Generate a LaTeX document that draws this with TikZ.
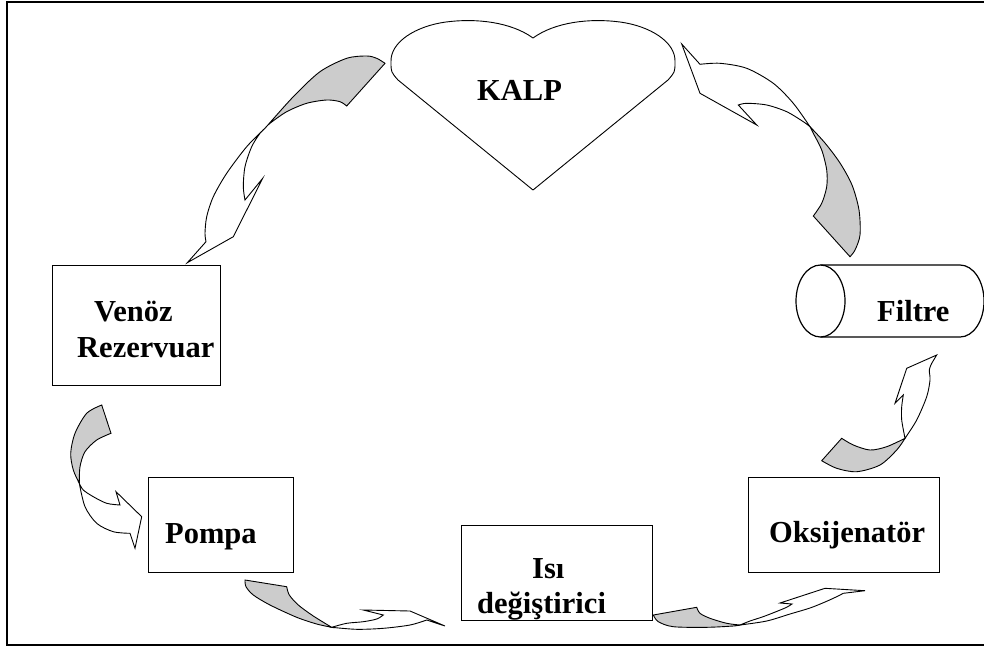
\documentclass[tikz,border=0pt]{standalone}
\usepackage{fontspec}
\setmainfont{Liberation Serif}
\begin{document}
\begin{tikzpicture}[x=1pt,y=-1pt,
  box/.style={draw, line width=1.2pt, inner sep=0pt, anchor=north west},
  lbl/.style={anchor=base west, inner sep=0pt, font=\fontsize{30.5}{36}\selectfont\bfseries},
  outline/.style={draw, line width=0.9pt, line join=miter},
  ribbonback/.style={outline, fill=black!20},
  ribbonfront/.style={outline, fill=white}]
\useasboundingbox (0,0) rectangle (984,651);
\clip (0,0) rectangle (984,651);
\fill[white] (0,0) rectangle (984,651);

% outer frame (right side runs off the page)
\draw[line width=1.6pt] (7,2) rectangle (995,645);

% heart
\draw[outline, line join=round] (533,38)
  .. controls (555,22) and (590,18) .. (620,22)
  .. controls (650,26) and (676,42) .. (675,62)
  .. controls (675,72) .. (668,80) -- (533,190) -- (398,80)
  .. controls (391,72) .. (391,62)
  .. controls (390,42) and (416,26) .. (446,22)
  .. controls (476,18) and (511,22) .. (533,38) -- cycle;
\node[lbl] (kalp) at (477,100) {KALP};

% component boxes
\node[box, minimum width=168pt, minimum height=120pt] (venoz) at (52,265) {};
\node[lbl] (venozA) at (94,321) {Venöz};
\node[lbl] (venozB) at (77,357) {Rezervuar};

\node[box, minimum width=145pt, minimum height=95pt] (pompa) at (148,477) {};
\node[lbl] (pompaT) at (165,543) {Pompa};

\node[box, minimum width=191pt, minimum height=95pt] (isi) at (461,525) {};
\node[lbl] (isiA) at (532,578) {Isı};
\node[lbl] (isiB) at (477,613) {değiştirici};

\node[box, minimum width=191pt, minimum height=95pt] (oksi) at (748,477) {};
\node[lbl] (oksiT) at (769,542) {Oksijenatör};

% filter cylinder
\draw[line width=1.2pt] (820.5,265) -- (960,265)
  arc[start angle=90, end angle=-90, x radius=24pt, y radius=36pt] -- (820.5,337);
\draw[line width=1.2pt] (820.5,301) ellipse [x radius=24.5pt, y radius=36pt];
\node[lbl] (filtre) at (877,321) {Filtre};

% curved block arrow: heart -> venous reservoir
\path[ribbonback] plot[smooth] coordinates {(385,63.3) (376.7,58.3) (366.7,56) (346.7,58.3) (320,71.7) (293.3,96.7) (265,128.3)}
  -- plot[smooth] coordinates {(265,128.3) (270,123.3) (286.7,111.7) (306.7,103.3) (326.7,100) (340,101.7) (346.7,106)} -- cycle;
\path[ribbonfront] plot[smooth] coordinates {(265,128.3) (246.7,146.7) (226.7,173.3) (213.3,196.7) (206.7,216.7) (205,233.3) (206,241.7)}
  -- (187.3,262.7) -- (233.3,236.7) -- (262.7,178.3) -- (245,200)
  -- plot[smooth] coordinates {(245,200) (243.3,186.7) (245,166.7) (251.7,146.7) (260,133.3) (265,128.3)} -- cycle;

% curved block arrow: filter -> heart
\path[ribbonback] plot[smooth] coordinates {(813.3,216) (821.7,203.3) (826.7,186.7) (826.7,170) (821.7,150) (813.3,133.3) (810,126.7)}
  -- plot[smooth] coordinates {(810,126.7) (825,143) (840,163) (852,185) (859,210) (860,235) (855,250) (850,256.7)} -- cycle;
\path[ribbonfront] plot[smooth] coordinates {(810,126.7) (793.3,103.3) (773.3,83.3) (746.7,68.3) (720,63.3) (700,64.3)}
  -- (681.7,44) -- (700,93.3) -- (756.7,125) -- (738.3,105)
  -- plot[smooth] coordinates {(738.3,105) (746.7,103.3) (766.7,105) (786.7,111.7) (803.3,121.7) (810,126.7)} -- cycle;

% curved block arrow: venous reservoir -> pump
\path[ribbonback] plot[smooth] coordinates {(101.7,405) (86.7,413.3) (75,433.3) (70.7,453.3) (73.3,470) (79.3,483.3)}
  -- plot[smooth] coordinates {(79.3,483.3) (80,466.7) (85,451.7) (96.7,440) (111,433.3)} -- cycle;
\path[ribbonfront] plot[smooth] coordinates {(79.3,483.3) (85,506.7) (96.7,523.3) (113.3,531.7) (130,533.3)}
  -- (135,548.3) -- (141.7,516.7) -- (116,491.7) -- (120,505)
  -- plot[smooth] coordinates {(120,505) (106.7,503.3) (93.3,496.7) (83.3,490) (79.3,483.3)} -- cycle;

% curved block arrow: pump -> heat exchanger
\path[ribbonback] (245,580) -- plot[smooth] coordinates {(286.7,586.7) (289.3,595) (298.3,605) (313.3,616) (331.7,627.3)}
  -- plot[smooth] coordinates {(331.7,627.3) (316.7,624) (296.7,617.3) (270,605) (253.3,595) (246,586.7) (245,580)} -- cycle;
\path[ribbonfront] plot[smooth] coordinates {(331.7,627.3) (356.7,629.3) (383.3,628.3) (410,625) (426.7,620)}
  -- (445,626) -- (410,611) -- (363.3,610) -- (383.3,615)
  -- plot[smooth] coordinates {(383.3,615) (376.7,619) (363.3,621.7) (346.7,623.3) (331.7,627.3)} -- cycle;

% curved block arrow: heat exchanger -> oxygenator
\path[ribbonback] (653.3,615) -- plot[smooth] coordinates {(696.7,607.3) (700,613.3) (710,618.3) (726.7,623.3) (740,625)}
  -- plot[smooth] coordinates {(740,625) (733.3,626) (706.7,627.3) (673.3,626.7) (658.3,621.7) (653.3,615)} -- cycle;
\path[ribbonfront] plot[smooth] coordinates {(740,625) (766.7,621) (790,614) (810,608) (825,602) (836,597) (843.3,593.3)}
  -- (865,590.7) -- (825,588.3) -- (780,603) -- (792,604)
  -- plot[smooth] coordinates {(792,604) (785,608) (765,616) (750,621) (740,625)} -- cycle;

% curved block arrow: oxygenator -> filter
\path[ribbonback] (821.7,460.7) -- plot[smooth] coordinates {(841.7,438.3) (853.3,445) (870,450) (886.7,446.7) (905,438.3)}
  -- plot[smooth] coordinates {(905,438.3) (896.7,450) (880,465) (856.7,471.7) (836.7,468.3) (821.7,460.7)} -- cycle;
\path[ribbonfront] plot[smooth] coordinates {(905,438.3) (916.7,420) (926.7,396.7) (930,380) (929.3,370) (931.7,363.3)}
  -- (936.7,355) -- (906.7,368.3) -- (895,403.3) -- (903.3,395)
  -- plot[smooth] coordinates {(903.3,395) (901.7,406.7) (901.7,420) (905,438.3)} -- cycle;
\end{tikzpicture}
\end{document}
